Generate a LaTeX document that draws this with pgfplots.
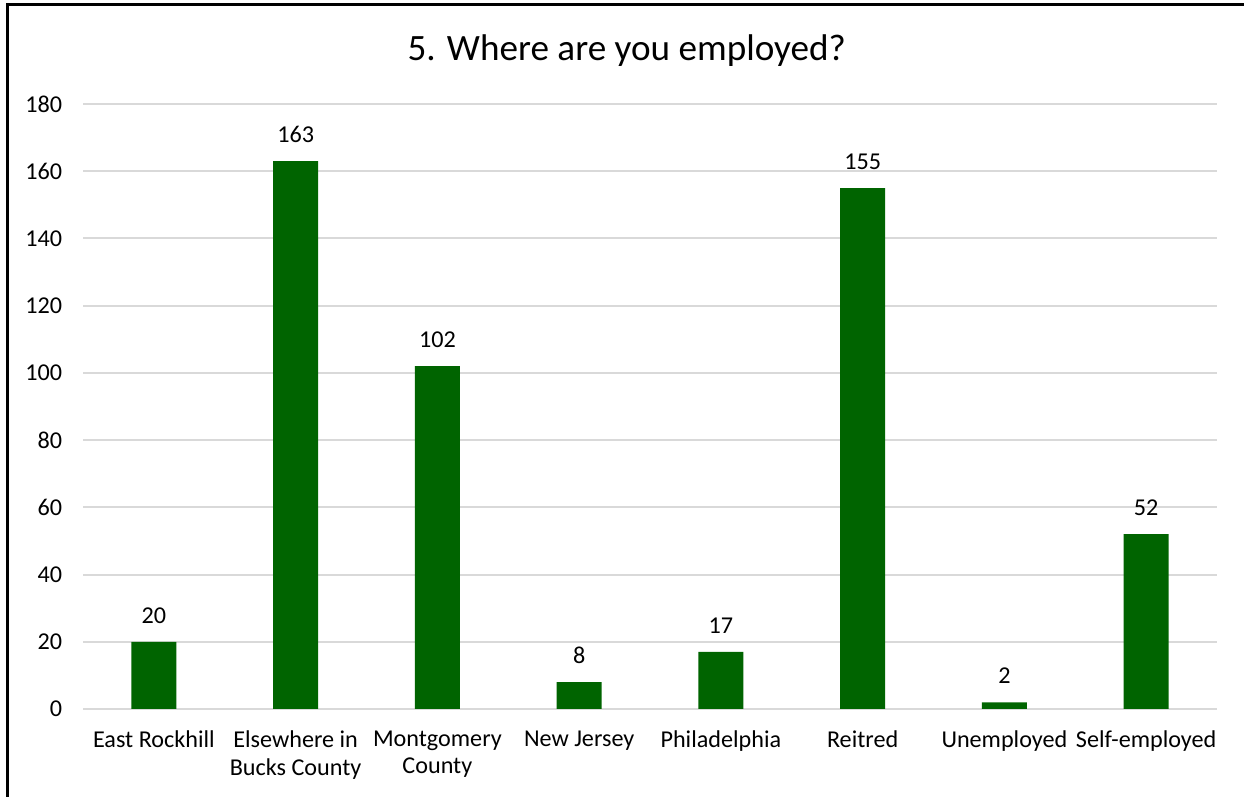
\documentclass[border=0pt]{standalone}
\usepackage{pgfplots}
\pgfplotsset{compat=1.18}
\usepackage{fontspec}
\setmainfont{Carlito}
\definecolor{bargreen}{RGB}{0,100,0}
\definecolor{gridgray}{RGB}{217,217,217}
\begin{document}
\begin{tikzpicture}[x=1pt,y=1pt]
\path[use as bounding box] (0,0) rectangle (746.4,478.2);
\begin{axis}[
  at={(49.8pt,52.8pt)}, anchor=south west,
  scale only axis, width=680.4pt, height=363pt,
  xmin=-0.5, xmax=7.5, ymin=0, ymax=180,
  ytick={0,20,...,180},
  xtick=data,
  xticklabels={East Rockhill,Elsewhere in\\Bucks County,Montgomery\\County,New Jersey,Philadelphia,Reitred,Unemployed,Self-employed},
  xticklabel style={align=center, font=\fontsize{14.5}{16.3}\selectfont, yshift=-5.5pt},
  yticklabel style={font=\fontsize{14.5}{16.3}\selectfont, xshift=-9pt},
  /pgf/number format/assume math mode=true,
  axis line style={draw=none},
  x axis line style={draw=gridgray, line width=1.2pt},
  tick style={draw=none},
  ymajorgrids, grid style={draw=gridgray, line width=1.2pt},
  ybar, bar width=27pt,
  nodes near coords,
  nodes near coords style={font=\fontsize{14.5}{16.3}\selectfont, yshift=7.5pt},
  clip=false,
]
\addplot[fill=bargreen, draw=none] coordinates {(0,20) (1,163) (2,102) (3,8) (4,17) (5,155) (6,2) (7,52)};
\end{axis}
\node[font=\fontsize{22.3}{26}\selectfont] at (376,447.6) {5. Where are you employed?};
\draw[line width=1.8pt] (4.2,0) -- (4.2,475.2) -- (746.4,475.2);
\end{tikzpicture}
\end{document}
